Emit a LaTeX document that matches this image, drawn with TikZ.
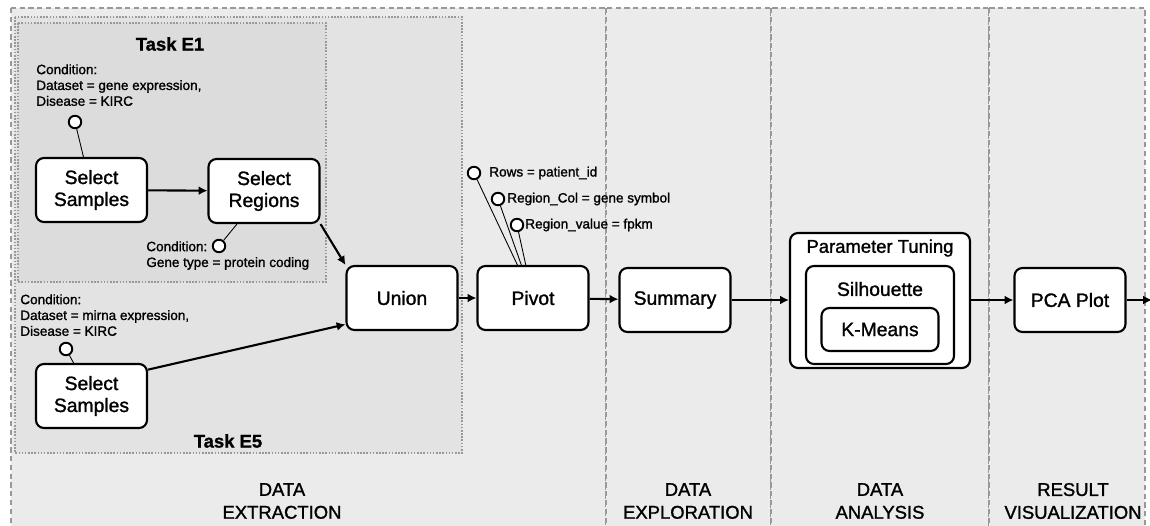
\documentclass[tikz,border=0pt]{standalone}
\usepackage{fontspec}
\setmainfont{Liberation Sans}[FakeBold=1.3]
\usetikzlibrary{arrows.meta,positioning}
\definecolor{colfill}{HTML}{EBEBEB}
\definecolor{taskfill}{HTML}{E3E3E3}
\definecolor{subfill}{HTML}{DCDCDC}
\definecolor{rulegray}{HTML}{999999}

\begin{document}
\begin{tikzpicture}[x=0.02cm,y=-0.02cm,
    proc/.style={draw, line width=1.2pt, rounded corners=4.5pt, fill=white, align=center,
      inner sep=0pt, minimum width=2.22cm, minimum height=1.28cm, font=\fontsize{11}{12.5}\selectfont},
    knob/.style={circle, draw, line width=1.1pt, fill=white, inner sep=0pt, minimum size=0.25cm},
    note/.style={align=left, inner sep=0pt, font=\fontsize{7.7}{9}\selectfont},
    flow/.style={line width=1.2pt, -{Latex[length=5pt,width=5pt]}},
    stem/.style={line width=0.5pt},
    phase/.style={fill=colfill, draw=rulegray, line width=0.7pt, dash pattern=on 3pt off 2pt},
    task/.style={draw=rulegray, line width=0.9pt, dash pattern=on 0.9pt off 0.9pt},
    stage/.style={align=center, inner sep=0pt, font=\fontsize{10.5}{13}\selectfont}]
   \useasboundingbox (0,0) rectangle (1150,525);

   % phases
   \draw[phase] (11,8) rectangle (606,540);
   \draw[phase] (606,8) rectangle (771,540);
   \draw[phase] (771,8) rectangle (989,540);
   \draw[phase] (989,8) rectangle (1145,540);
   \draw[task, fill=taskfill] (15,17) rectangle (462,453);
   \draw[task, fill=subfill] (18,23) rectangle (326,282);

   \node[stage, font=\fontsize{10.5}{12}\bfseries] (taskA) at (170,44) {Task E1};
   \node[stage, font=\fontsize{10.5}{12}\bfseries] (taskB) at (228,441) {Task E5};

   % task E1
   \node[proc] (ssE1) at (91.5,190) {Select\\Samples};
   \node[proc] (srE1) at (264,191) {Select\\Regions};
   \node[knob] (cndA) at (75,122) {};
   \node[note, anchor=north west] (txtA) at (36,64) {Condition:\\Dataset = gene expression,\\Disease = KIRC};
   \node[knob] (cndB) at (219,246) {};
   \node[note, anchor=north west] (txtB) at (146,241) {Condition:\\Gene type = protein coding};

   % task E5
   \node[proc] (ssE5) at (91.5,396) {Select\\Samples};
   \node[knob] (cndC) at (66,349) {};
   \node[note, anchor=north west] (txtC) at (20,294) {Condition:\\Dataset = mirna expression,\\Disease = KIRC};

   \node[proc] (union) at (402,298) {Union};
   \node[proc] (pivot) at (533,298) {Pivot};
   \node[knob] (pRows) at (474,173) {};
   \node[knob] (pCol) at (498,199) {};
   \node[knob] (pVal) at (517,225) {};
   \node[note, anchor=west] (tRows) at (489,173) {Rows = patient\_id};
   \node[note, anchor=west] (tCol) at (507,199) {Region\_Col = gene symbol};
   \node[note, anchor=west] (tVal) at (525,225) {Region\_value = fpkm};

   \node[proc] (summary) at (675,300) {Summary};

   \node[proc, minimum width=3.6cm, minimum height=2.7cm] (tuning) at (880,300.5) {};
   \node[stage, font=\fontsize{10.5}{12}\selectfont] (tuningTxt) at (880,248) {Parameter Tuning};
   \node[proc, minimum width=2.96cm, minimum height=1.96cm] (silhouette) at (880,315) {};
   \node[stage, font=\fontsize{11}{12}\selectfont] (silTxt) at (880,289) {Silhouette};
   \node[proc, minimum width=2.34cm, minimum height=0.86cm] (kmeans) at (880,329.5) {K-Means};

   \node[proc] (pca) at (1070,300) {PCA Plot};
   \coordinate (outR) at (1152,300);

   % stems
   \draw[stem] (cndA) -- (ssE1);
   \draw[stem] (cndB) -- (srE1);
   \draw[stem] (cndC) -- (ssE5);
   \foreach \k in {pRows,pCol,pVal}
     \draw[stem] (\k) -- (pivot);

   % flow
   \draw[flow] (ssE1) -- (srE1);
   \draw[flow] (srE1.south east) -- (union.north west);
   \draw[flow] (ssE5.25) -- (union.205);
   \draw[flow] (union) -- (pivot);
   \draw[flow] (pivot) -- (summary);
   \draw[flow] (summary) -- (tuning.west |- summary);
   \draw[flow] (tuning.east |- pca) -- (pca);
   \draw[flow] (pca) -- (outR);

   % phase labels
   \node[stage] (lblA) at (282,501) {DATA\\EXTRACTION};
   \node[stage] (lblB) at (688,501) {DATA\\EXPLORATION};
   \node[stage] (lblC) at (880,501) {DATA\\ANALYSIS};
   \node[stage] (lblD) at (1073,501) {RESULT\\VISUALIZATION};
\end{tikzpicture}
\end{document}
